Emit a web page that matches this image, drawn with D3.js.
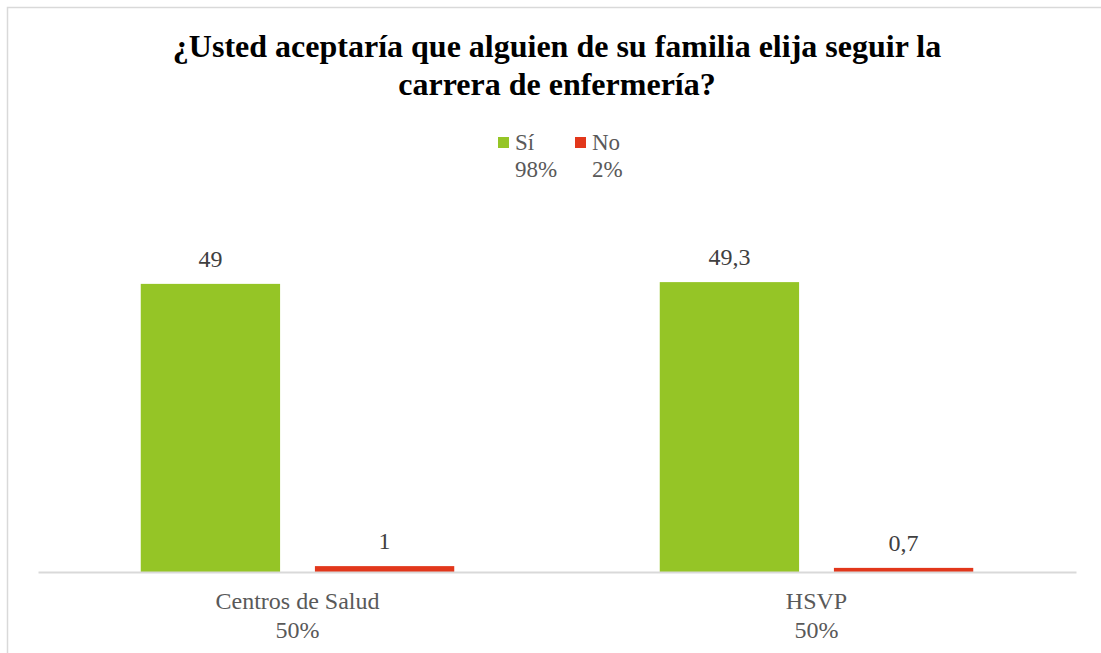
<!DOCTYPE html>
<html>
<head>
<meta charset="utf-8">
<script src="https://cdn.jsdelivr.net/npm/d3@7"></script>
<style>
  body { margin: 0; background: #fff; }
  #chart text { font-family: "Liberation Serif", Tinos, "Times New Roman", serif; }
</style>
</head>
<body>
<svg id="chart" width="1101" height="653"></svg>
<script>
// data
var categories = ["Centros de Salud", "HSVP"];
var categoryShares = ["50%", "50%"];
var seriesNames = ["Sí", "No"];
var seriesShares = ["98%", "2%"];
var siValues = [49, 49.3];
var noValues = [1, 0.7];
var seriesColors = ["#95c526", "#e2371b"];

var svg = d3.select("#chart");

// chart border (only top/left visible in the shot)
svg.append("rect")
    .attr("x", 7.5).attr("y", 7.5)
    .attr("width", 1120).attr("height", 680)
    .attr("fill", "none")
    .attr("stroke", "#d9d9d9")
    .attr("stroke-width", 1.5);

// title
var title = svg.append("text")
    .attr("text-anchor", "middle")
    .attr("font-weight", "bold")
    .attr("font-size", 32)
    .attr("fill", "#000");
title.append("tspan").attr("x", 557).attr("y", 57)
    .text("¿Usted aceptaría que alguien de su familia elija seguir la");
title.append("tspan").attr("x", 557).attr("y", 95)
    .text("carrera de enfermería?");

var baseY = 572;
var x0 = d3.scaleBand().domain(categories).range([38, 1076]).paddingInner(0).paddingOuter(0);
var x1 = d3.scaleBand().domain(seriesNames).range([0, x0.bandwidth()]).paddingInner(0.2).paddingOuter(0.59);
var y = d3.scaleLinear().domain([0, 55]).range([baseY, baseY - 55 * 5.88]);

var rows = categories.map(function(c, i) {
    return { cat: c, values: [siValues[i], noValues[i]] };
});

var g = svg.append("g");
var groups = g.selectAll("g.cat").data(rows).enter().append("g")
    .attr("transform", function(d) { return "translate(" + x0(d.cat) + ",0)"; });

groups.selectAll("rect").data(function(d) {
    return d.values.map(function(v, j) { return { s: seriesNames[j], v: v, j: j }; });
}).enter().append("rect")
    .attr("x", function(d) { return x1(d.s); })
    .attr("width", x1.bandwidth())
    .attr("y", function(d) { return y(d.v); })
    .attr("height", function(d) { return baseY - y(d.v); })
    .attr("fill", function(d) { return seriesColors[d.j]; });

groups.selectAll("text.lbl").data(function(d) {
    return d.values.map(function(v, j) { return { s: seriesNames[j], v: v }; });
}).enter().append("text")
    .attr("class", "lbl")
    .attr("text-anchor", "middle")
    .attr("font-size", 24)
    .attr("fill", "#404040")
    .attr("x", function(d) { return x1(d.s) + x1.bandwidth() / 2; })
    .attr("y", function(d) { return y(d.v) - 17; })
    .text(function(d) { return String(d.v).replace(".", ","); });

// axis line
var axis = svg.append("g").attr("transform", "translate(0," + baseY + ")")
    .call(d3.axisBottom(x0).tickSize(0).tickFormat(""));
axis.select(".domain").attr("stroke", "#d9d9d9").attr("stroke-width", 2);

// category labels
categories.forEach(function(c, i) {
    var t = svg.append("text")
        .attr("text-anchor", "middle")
        .attr("font-size", 24)
        .attr("fill", "#595959");
    var cx = x0(c) + x0.bandwidth() / 2;
    t.append("tspan").attr("x", cx).attr("y", 609).text(c);
    t.append("tspan").attr("x", cx).attr("y", 638).text(categoryShares[i]);
});

// legend
var legendX = [498, 575];
seriesNames.forEach(function(s, i) {
    var lg = svg.append("g").attr("transform", "translate(" + legendX[i] + ",0)");
    lg.append("rect").attr("x", 0).attr("y", 137).attr("width", 11).attr("height", 11)
        .attr("fill", seriesColors[i]);
    lg.append("text").attr("x", 17).attr("y", 150)
        .attr("font-size", 23).attr("fill", "#595959").text(s);
    lg.append("text").attr("x", 17).attr("y", 177)
        .attr("font-size", 23).attr("fill", "#595959").text(seriesShares[i]);
});
</script>
</body>
</html>
